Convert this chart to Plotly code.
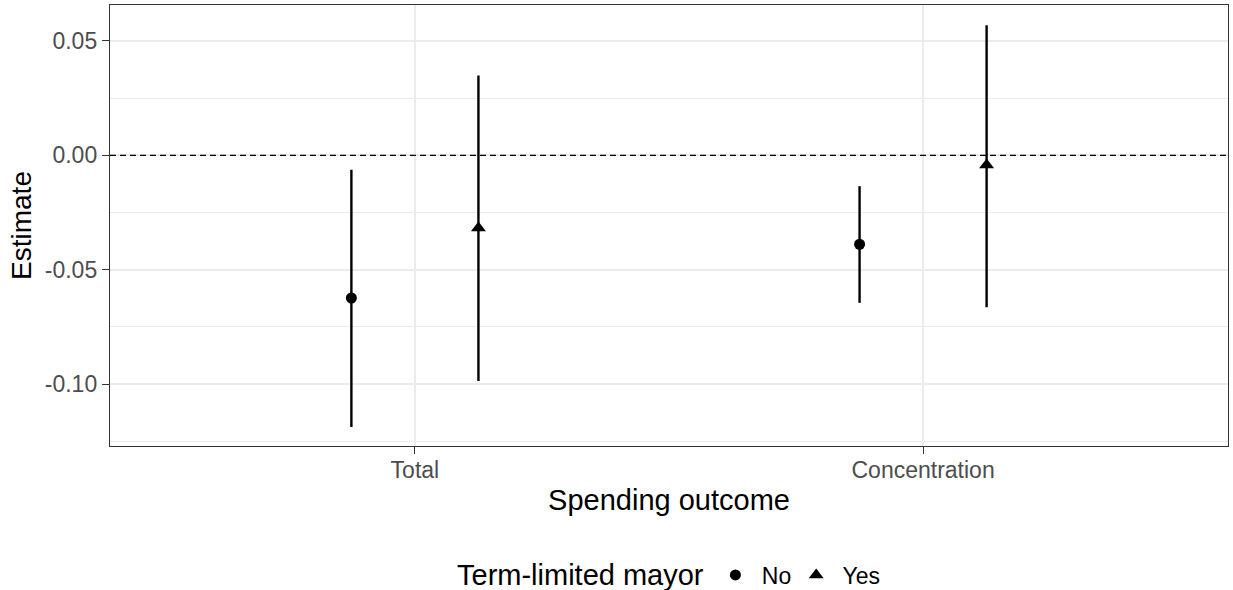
import plotly.graph_objects as go

# ---- data ----
categories = ["Total", "Concentration"]
groups = ["No", "Yes"]
estimate_no = [-0.0624, -0.0389]
lower_no = [-0.1188, -0.0645]
upper_no = [-0.0063, -0.0135]
estimate_yes = [-0.0318, -0.0043]
lower_yes = [-0.0987, -0.0664]
upper_yes = [0.0349, 0.0568]
ytick_vals = [0.05, 0.0, -0.05, -0.10]
ytick_text = ["0.05", "0.00", "-0.05", "-0.10"]
yminor_vals = [0.025, -0.025, -0.075, -0.125]
legend_title = "Term-limited mayor"

dodge = 0.125
base_x = list(range(1, len(categories) + 1))

series = [
    (groups[0], estimate_no, lower_no, upper_no, "circle", 11, -dodge),
    (groups[1], estimate_yes, lower_yes, upper_yes, "triangle-up", 13, dodge),
]

fig = go.Figure()
for name, est, lo, hi, sym, size, off in series:
    fig.add_trace(go.Scatter(
        x=[b + off for b in base_x],
        y=est,
        mode="markers",
        name="\u00a0" + name,
        marker=dict(symbol=sym, size=size, color="black"),
        error_y=dict(
            type="data", symmetric=False,
            array=[h - e for h, e in zip(hi, est)],
            arrayminus=[e - l for e, l in zip(est, lo)],
            color="black", thickness=2.4, width=0,
        ),
        showlegend=True,
    ))

fig.add_shape(type="line", xref="x domain", yref="y", x0=0, x1=1, y0=0, y1=0,
              line=dict(color="black", width=1.3, dash="6px,4px"), layer="above")

legend_y = -0.2925
fig.add_annotation(text=legend_title, xref="paper", yref="paper", x=0.533, y=legend_y,
                   xanchor="right", yanchor="middle", showarrow=False,
                   font=dict(size=29, color="black"))

font_family = "Liberation Sans, Arial, sans-serif"
fig.update_layout(
    width=1233, height=590,
    margin=dict(l=110, r=5, t=5, b=144, autoexpand=False),
    paper_bgcolor="white", plot_bgcolor="white",
    font=dict(family=font_family, color="black"),
    legend=dict(
        orientation="h", x=0.5415, xanchor="left", y=legend_y, yanchor="middle",
        font=dict(size=23, color="black"),
        itemwidth=30, tracegroupgap=0,
    ),
    xaxis=dict(
        range=[0.4, 2.6], tickmode="array", tickvals=base_x, ticktext=categories,
        showgrid=True, gridcolor="#ebebeb", gridwidth=2,
        zeroline=False, showline=True, linecolor="#333333", linewidth=1.4, mirror=True,
        ticks="outside", ticklen=7, tickwidth=1.4, tickcolor="#333333",
        tickfont=dict(size=23, color="#4d4d4d"), ticklabelstandoff=-4,
        title=dict(text="Spending outcome", font=dict(size=29, color="black"), standoff=7),
        automargin=False,
    ),
    yaxis=dict(
        range=[-0.1271, 0.0657], tickmode="array", tickvals=ytick_vals, ticktext=ytick_text,
        showgrid=True, gridcolor="#ebebeb", gridwidth=2,
        minor=dict(tickmode="array", tickvals=yminor_vals, showgrid=True,
                   gridcolor="#ebebeb", gridwidth=1, ticks=""),
        zeroline=False, showline=True, linecolor="#333333", linewidth=1.4, mirror=True,
        ticks="outside", ticklen=7, tickwidth=1.4, tickcolor="#333333",
        tickfont=dict(size=23, color="#4d4d4d"),
        title=dict(text="Estimate", font=dict(size=28, color="black"), standoff=4),
        automargin=False,
    ),
)

fig.write_html("out.html", config={"displayModeBar": False},
               post_script="document.body.style.margin='0';")
